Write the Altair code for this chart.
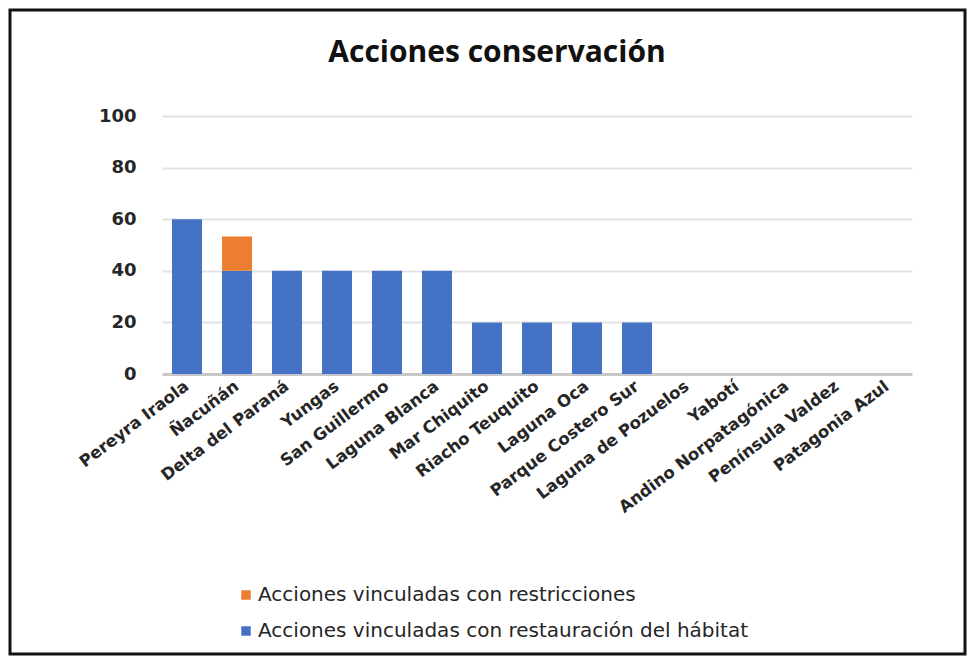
import altair as alt
import pandas as pd

categories = ["Pereyra Iraola", "Ñacuñán", "Delta del Paraná", "Yungas", "San Guillermo",
              "Laguna Blanca", "Mar Chiquito", "Riacho Teuquito", "Laguna Oca",
              "Parque Costero Sur", "Laguna de Pozuelos", "Yabotí", "Andino Norpatagónica",
              "Península Valdez", "Patagonia Azul"]
restauracion = [60, 40, 40, 40, 40, 40, 20, 20, 20, 20, 0, 0, 0, 0, 0]
restricciones = [0, 13.3, 0, 0, 0, 0, 0, 0, 0, 0, 0, 0, 0, 0, 0]
series = ["Acciones vinculadas con restricciones",
          "Acciones vinculadas con restauración del hábitat"]
colors = ["#ED7D31", "#4472C4"]
title_text = "Acciones conservación"

rows = []
for c, b, o in zip(categories, restauracion, restricciones):
    rows.append({"cat": c, "serie": series[1], "val": b, "ord": 0})
    rows.append({"cat": c, "serie": series[0], "val": o, "ord": 1})
df = pd.DataFrame(rows)

W, H = 750, 258
FONT = "DejaVu Sans"

bars = alt.Chart(df).mark_bar().encode(
    x=alt.X("cat:N", sort=categories, title=None,
            scale=alt.Scale(paddingInner=0.4, paddingOuter=0.2),
            axis=alt.Axis(labelAngle=-37, labelAlign="right", labelBaseline="middle",
                          labelFont=FONT, labelFontSize=16.5, labelFontWeight="bold",
                          labelColor="#262626", ticks=False, domain=True, grid=False,
                          domainColor="#c8c8c8", domainWidth=3, labelPadding=10,
                          labelOverlap=False, labelLimit=300)),
    y=alt.Y("sum(val):Q", title=None,
            scale=alt.Scale(domain=[0, 100]),
            axis=alt.Axis(values=[0, 20, 40, 60, 80, 100], labelFont=FONT, labelFontSize=18,
                          labelFontWeight="bold", labelColor="#262626", ticks=False,
                          domain=False, labelPadding=26, gridColor="#e3e3e3", gridWidth=2)),
    color=alt.Color("serie:N", scale=alt.Scale(domain=series, range=colors),
                    legend=alt.Legend(orient="none", legendX=74, legendY=469, title=None,
                                      symbolType="square", symbolSize=90,
                                      symbolStrokeWidth=0, labelFont=FONT,
                                      labelFontSize=20, labelColor="#262626",
                                      labelOffset=2, rowPadding=16, labelLimit=600)),
    order=alt.Order("ord:Q"),
)

border = alt.Chart(pd.DataFrame({"a": [0]})).mark_rect(
    fillOpacity=0, stroke="#111111", strokeWidth=3, clip=False
).encode(x=alt.value(-152), x2=alt.value(W + 53), y=alt.value(-106), y2=alt.value(H + 280))

title = alt.Chart(pd.DataFrame({"t": [title_text]})).mark_text(
    font="Open Sans", fontSize=30, fontWeight="bold", color="#111111",
    align="center", baseline="middle"
).encode(text="t:N", x=alt.value(W / 2 - 40), y=alt.value(-63))

chart = alt.layer(bars, border, title).properties(
    width=W, height=H,
    background="white",
    padding={"left": 154, "top": 108, "right": 56, "bottom": 282},
    autosize=alt.AutoSizeParams(type="none"),
).configure_view(strokeWidth=0, stroke="transparent")

chart.save("out.html", embed_options={"renderer": "svg", "actions": False})
